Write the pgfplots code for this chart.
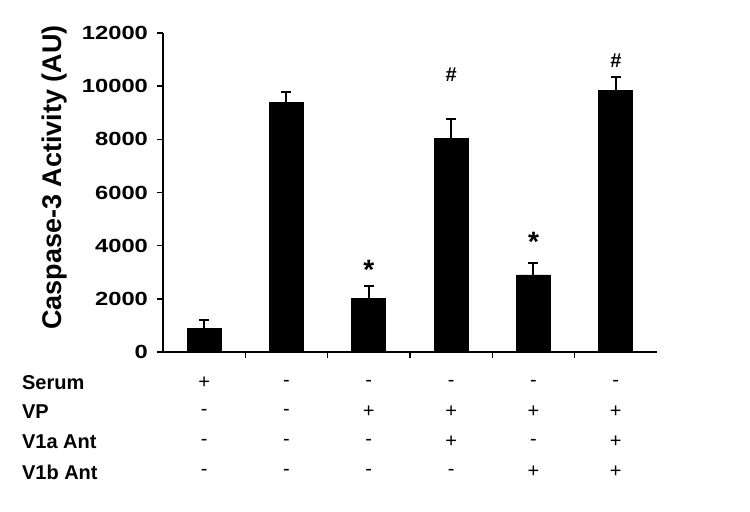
\documentclass[border=0pt]{standalone}
\usepackage{pgfplots}
\pgfplotsset{compat=1.18}
\usepackage{fontspec}
\setmainfont{Liberation Sans}
\newfontfamily\tickfont[FakeStretch=1.25]{Liberation Sans}

% bar heights and upward error (AU)
\pgfplotstableread{
x  y     err
1  900   300
2  9400  370
3  2000  480
4  8050  700
5  2900  460
6  9850  500
}\caspdata

% one column of the treatment table: x, then signs for Serum, VP, V1a, V1b
\newcommand{\signcol}[5]{%
    \node[font=\fontsize{10}{12}\selectfont] at ([yshift=-15.5pt]axis cs:#1,0) {#2};
    \node[font=\fontsize{10}{12}\selectfont] at ([yshift=-30pt]axis cs:#1,0) {#3};
    \node[font=\fontsize{10}{12}\selectfont] at ([yshift=-45pt]axis cs:#1,0) {#4};
    \node[font=\fontsize{10}{12}\selectfont] at ([yshift=-60pt]axis cs:#1,0) {#5};
}
\newcommand{\rowlab}[2]{%
    \node[anchor=west, font=\fontsize{10}{12}\bfseries] at ([yshift=#1, xshift=-74pt]axis cs:0.5,0) {#2};
}

\begin{document}
\begin{tikzpicture}
\path[use as bounding box] (-81.5pt,-79.5pt) rectangle (293.5pt,176pt);
\begin{axis}[
    at={(0,0)}, anchor=south west,
    scale only axis,
    width=247pt, height=159.5pt,
    xmin=0.5, xmax=6.5,
    ymin=0, ymax=12000,
    axis lines*=left,
    axis line style={line width=1pt},
    tick align=outside,
    major tick length=3pt,
    tick style={line width=0.8pt, black},
    xtick={1.5,2.5,...,5.5},
    xticklabels={},
    ytick={0,2000,...,12000},
    scaled y ticks=false,
    /pgf/number format/1000 sep={},
    /pgf/number format/assume math mode=true,
    yticklabel style={font=\tickfont\fontsize{9.5}{11}\bfseries, xshift=-1pt},
    ylabel={Caspase-3 Activity (AU)},
    ylabel style={font=\fontsize{13.5}{15}\bfseries,
        at={(axis description cs:-0.2186,0.547)}, anchor=center},
    clip=false,
]
\addplot[ybar, bar width=17pt, fill=black, draw=black,
    error bars/.cd, y dir=plus, y explicit,
    error bar style={line width=1pt, black},
    error mark options={rotate=90, mark size=2.5pt, line width=1pt}]
    table[x=x, y=y, y error=err] {\caspdata};

% significance marks
\node[font=\fontsize{14}{14}\bfseries] at (axis cs:3,3080) {*};
\node[font=\fontsize{14}{14}\bfseries] at (axis cs:5,4130) {*};
\node[font=\fontsize{10}{10}\bfseries] at (axis cs:4,10420) {\#};
\node[font=\fontsize{10}{10}\bfseries] at (axis cs:6,10940) {\#};

% treatment table
\rowlab{-15.5pt}{Serum}
\rowlab{-30pt}{VP}
\rowlab{-45pt}{V1a Ant}
\rowlab{-60pt}{V1b Ant}
\signcol{1}{+}{-}{-}{-}
\signcol{2}{-}{-}{-}{-}
\signcol{3}{-}{+}{-}{-}
\signcol{4}{-}{+}{+}{-}
\signcol{5}{-}{+}{-}{+}
\signcol{6}{-}{+}{+}{+}
\end{axis}
\end{tikzpicture}
\end{document}
